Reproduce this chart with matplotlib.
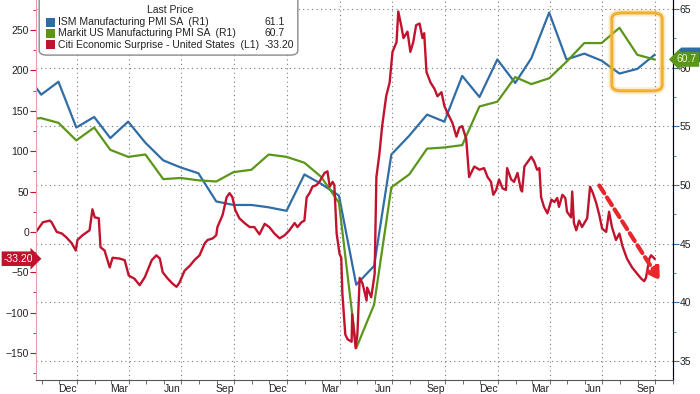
import numpy as np
import pandas as pd
import matplotlib
matplotlib.use("Agg")
import matplotlib.pyplot as plt
import matplotlib.dates as mdates
import matplotlib.transforms as mtrans
from matplotlib.patches import FancyBboxPatch, Rectangle, Polygon

plt.rcParams['font.family'] = ['Liberation Sans Narrow', 'Liberation Sans', 'DejaVu Sans']

# monthly PMI readings, Sep 2018 .. Sep 2021 (plotted at month end)
pmi_months = pd.date_range("2018-09-30", "2021-09-30", freq="ME")
ism = [59.8, 57.7, 58.8, 54.9,
       55.8, 54.0, 55.4, 53.6, 52.1, 51.5, 51.0, 48.6, 48.3, 48.3, 48.1, 47.8,
       50.9, 50.1, 49.1, 41.5, 43.1, 52.6, 54.2, 56.0, 55.4, 59.3, 57.5, 60.7,
       58.7, 60.8, 64.7, 60.7, 61.2, 60.6, 59.5, 59.9, 61.1]
markit = [55.6, 55.7, 55.3, 53.8,
          54.9, 53.0, 52.4, 52.6, 50.5, 50.6, 50.4, 50.3, 51.1, 51.3, 52.6, 52.4,
          51.9, 50.7, 48.5, 36.1, 39.8, 49.8, 50.9, 53.1, 53.2, 53.4, 56.7, 57.1,
          59.2, 58.6, 59.1, 60.5, 62.1, 62.1, 63.4, 61.1, 60.7]

# Citi Economic Surprise Index - United States
cesi_dates = [
    "2018-10-22", "2018-11-03", "2018-11-15", "2018-11-18", "2018-11-27", "2018-12-06",
    "2018-12-14", "2018-12-23", "2018-12-30", "2019-01-02", "2019-01-11", "2019-01-23",
    "2019-01-28", "2019-02-01", "2019-02-08", "2019-02-11", "2019-02-18", "2019-02-27",
    "2019-03-04", "2019-03-16", "2019-03-25", "2019-04-01", "2019-04-11", "2019-04-20",
    "2019-04-29", "2019-05-07", "2019-05-11", "2019-05-19", "2019-05-25", "2019-05-30",
    "2019-06-08", "2019-06-16", "2019-06-23", "2019-06-28", "2019-07-07", "2019-07-16",
    "2019-07-24", "2019-08-02", "2019-08-11", "2019-08-16", "2019-08-25", "2019-08-31",
    "2019-09-02", "2019-09-11", "2019-09-18", "2019-09-23", "2019-09-28", "2019-10-03",
    "2019-10-10", "2019-10-19", "2019-10-28", "2019-11-05", "2019-11-14", "2019-11-23",
    "2019-12-01", "2019-12-10", "2019-12-19", "2019-12-28", "2020-01-05", "2020-01-14",
    "2020-01-19", "2020-01-26", "2020-01-31", "2020-02-04", "2020-02-09", "2020-02-14",
    "2020-02-21", "2020-02-26", "2020-03-06", "2020-03-11", "2020-03-15", "2020-03-20",
    "2020-03-23", "2020-03-27", "2020-04-01", "2020-04-04", "2020-04-06", "2020-04-11",
    "2020-04-15", "2020-04-22", "2020-04-23", "2020-04-29", "2020-05-02", "2020-05-06",
    "2020-05-11", "2020-05-18", "2020-05-19", "2020-05-26", "2020-06-01", "2020-06-04",
    "2020-06-09", "2020-06-14", "2020-06-21", "2020-06-27", "2020-07-02", "2020-07-09",
    "2020-07-12", "2020-07-17", "2020-07-21", "2020-07-28", "2020-08-02", "2020-08-07",
    "2020-08-12", "2020-08-18", "2020-08-23", "2020-08-26", "2020-08-30", "2020-09-06",
    "2020-09-13", "2020-09-18", "2020-09-25", "2020-09-30", "2020-10-05", "2020-10-14",
    "2020-10-21", "2020-10-26", "2020-10-31", "2020-11-07", "2020-11-12", "2020-11-21",
    "2020-11-30", "2020-12-08", "2020-12-14", "2020-12-20", "2020-12-24", "2020-12-29",
    "2021-01-03", "2021-01-09", "2021-01-15", "2021-01-17", "2021-01-24", "2021-01-29",
    "2021-02-04", "2021-02-10", "2021-02-12", "2021-02-16", "2021-02-21", "2021-02-28",
    "2021-03-05", "2021-03-10", "2021-03-14", "2021-03-17", "2021-03-22", "2021-03-28",
    "2021-04-04", "2021-04-09", "2021-04-14", "2021-04-17", "2021-04-23", "2021-04-28",
    "2021-05-01", "2021-05-08", "2021-05-10", "2021-05-13", "2021-05-17", "2021-05-22",
    "2021-05-27", "2021-06-05", "2021-06-10", "2021-06-15", "2021-06-21", "2021-06-26",
    "2021-07-01", "2021-07-08", "2021-07-13", "2021-07-18", "2021-07-25", "2021-07-31",
    "2021-08-05", "2021-08-13", "2021-08-22", "2021-08-31", "2021-09-07", "2021-09-12",
    "2021-09-15", "2021-09-21", "2021-09-24", "2021-09-30"]
cesi = [
    0, 12, 14, 12, 0, -2,
    -7, -14, -23, -10, -4, 2,
    28, 18, 17, -19, -23, -44,
    -32, -33, -35, -54, -58, -66,
    -56, -42, -35, -29, -33, -50,
    -58, -64, -68, -63, -48, -42,
    -35, -29, -14, -10, -8, -4,
    6, 21, 43, 48, 43, 27,
    17, 11, 6, 6, -3, 10,
    6, -2, -8, -4, 2, 11,
    6, 12, 14, 43, 48, 56,
    58, 62, 73, 75, 56, 62,
    58, -2, -27, -32, -77, -127,
    -133, -136, -102, -144, -127, -57,
    -64, -85, -69, -81, -52, 68,
    95, 131, 168, 185, 223, 235,
    273, 256, 240, 248, 223, 235,
    256, 258, 240, 246, 198, 185,
    177, 168, 173, 156, 148, 135,
    118, 129, 131, 115, 68, 81,
    77, 79, 68, 62, 46, 52,
    65, 54, 52, 79, 65, 62,
    73, 52, 50, 81, 86, 93,
    87, 77, 79, 43, 31, 23,
    40, 37, 42, 31, 46, 42,
    25, 18, 50, 11, 2, 14,
    6, 17, 56, 48, 35, 21,
    4, 0, 25, 6, -10, -2,
    -17, -33, -44, -52, -58, -61,
    -57, -33, -29, -33.2]

blue = '#2f6da6'
green = '#5b9619'
red = '#c2132e'

fig = plt.figure(figsize=(7, 3.94), dpi=100)
ax = fig.add_axes([36 / 700, 14 / 394, 637 / 700, 380 / 394])
ax2 = ax.twinx()
ax.set_zorder(ax2.get_zorder() + 1)
ax.patch.set_visible(False)

# PMI lines on the right axis
ax2.plot(pmi_months, ism, color=blue, lw=1.6)
ax2.plot(pmi_months, markit, color=green, lw=1.6)
ax2.set_ylim(33.38, 65.77)
ax2.set_yticks(np.arange(35, 66, 5))
ax2.set_yticks(np.arange(35, 66, 2.5), minor=True)
ax2.tick_params(axis='y', which='both', colors=blue, labelcolor='#222', labelsize=7.5, pad=1)
ax2.tick_params(axis='y', which='major', length=4)
ax2.tick_params(axis='y', which='minor', length=2)
ax2.yaxis.grid(True, ls=(0, (1, 3)), color='#7a7a7a', lw=0.8)

# Citi surprise on the left axis
ax.plot(pd.to_datetime(cesi_dates), cesi, color=red, lw=1.7)
ax.set_ylim(-183.4, 287.2)
ax.set_yticks(np.arange(-150, 251, 50))
ax.set_yticks(np.arange(-175, 276, 25), minor=True)
ax.tick_params(axis='y', which='both', colors=red, labelcolor='#222', labelsize=7.5, pad=1)
ax.tick_params(axis='y', which='major', length=4)
ax.tick_params(axis='y', which='minor', length=2)

ax.set_xlim(pd.Timestamp("2018-10-22"), pd.Timestamp("2021-11-01"))
ax.xaxis.set_major_locator(mdates.MonthLocator(bymonth=[3, 6, 9, 12], bymonthday=15))
ax.xaxis.set_major_formatter(mdates.DateFormatter('%b'))
ax.xaxis.set_minor_locator(mdates.MonthLocator())
ax.tick_params(axis='x', which='major', length=0, labelsize=7.5, labelcolor='#222', pad=3)
ax.tick_params(axis='x', which='minor', length=3, color='#555')
for q in pd.date_range("2019-01-01", "2021-10-01", freq="QS"):
    ax.axvline(q, color='#7a7a7a', ls=(0, (1, 3)), lw=0.8, zorder=0)

for a in (ax, ax2):
    a.spines['top'].set_visible(False)
ax.spines['left'].set_color('#e0a0aa')
ax.spines['bottom'].set_color('#555555')
ax2.spines['right'].set_color(blue)
ax2.spines['left'].set_visible(False)
ax2.spines['bottom'].set_visible(False)

# last value tags
tl = mtrans.blended_transform_factory(ax.transAxes, ax.transData)
ax.text(-0.004, cesi[-1], f"{cesi[-1]:.2f}", transform=tl, ha='right', va='center',
        color='white', fontsize=7.5, clip_on=False, zorder=20,
        bbox=dict(boxstyle='rarrow,pad=0.22', fc=red, ec='none'))
# ISM tag sits mostly hidden behind the Markit tag
tr = mtrans.blended_transform_factory(ax2.transAxes, ax2.transData)
ax2.add_patch(Polygon([(1.001, ism[-1]), (1.013, ism[-1] + 0.62), (1.08, ism[-1] + 0.62),
                       (1.08, ism[-1] - 0.62), (1.013, ism[-1] - 0.62)],
                      closed=True, transform=tr, fc=blue, ec='none', clip_on=False))
tr1 = mtrans.blended_transform_factory(ax.transAxes, ax2.transData)
ax.text(1.006, markit[-1], f"{markit[-1]:.1f}", transform=tr1, ha='left', va='center',
        color='#e8f5d0', fontsize=7.5, clip_on=False, zorder=21,
        bbox=dict(boxstyle='larrow,pad=0.22', fc=green, ec='none'))

# legend box
leg = FancyBboxPatch((0.005, 0.855), 0.406, 0.25, boxstyle='round,pad=0,rounding_size=0.012',
                     transform=ax.transAxes, fc='white', ec='#8a8a8a', lw=1.0,
                     clip_on=False, zorder=30)
ax.add_patch(leg)
ax.text(0.210, 0.974, "Last Price", transform=ax.transAxes, ha='center', va='center',
        fontsize=7.5, color='#222', zorder=31)
names = ["ISM Manufacturing PMI SA  (R1)", "Markit US Manufacturing PMI SA  (R1)",
         "Citi Economic Surprise - United States  (L1)"]
lasts = [f"{ism[-1]:.1f}", f"{markit[-1]:.1f}", f"{cesi[-1]:.2f}"]
for i, (nm, lv, c) in enumerate(zip(names, lasts, [blue, green, red])):
    yy = 0.942 - i * 0.030
    ax.add_patch(Rectangle((0.0157, yy - 0.0118), 0.0141, 0.0236, transform=ax.transAxes,
                           fc=c, ec='none', zorder=31))
    ax.text(0.0345, yy, nm, transform=ax.transAxes, va='center', fontsize=7.5,
            color='#222', zorder=31)
    ax.text(0.358, yy, lv, transform=ax.transAxes, va='center', fontsize=7.5,
            color='#222', zorder=31)

# highlight box and trend arrow
for lw, al in [(5, 0.25), (2.2, 1.0)]:
    ax.add_patch(FancyBboxPatch((0.904, 0.761), 0.079, 0.205,
                                boxstyle='round,pad=0,rounding_size=0.015',
                                transform=ax.transAxes, fill=False, ec='#f0b030',
                                lw=lw, alpha=al, zorder=25))
ax.annotate('', xy=(0.982, 0.255), xytext=(0.882, 0.518), xycoords='axes fraction',
            arrowprops=dict(arrowstyle='-|>,head_length=0.7,head_width=0.4', lw=3,
                            ls=(0, (2.2, 1.2)), color='#e8262c'), zorder=26)

fig.savefig("out.png", dpi=100)
